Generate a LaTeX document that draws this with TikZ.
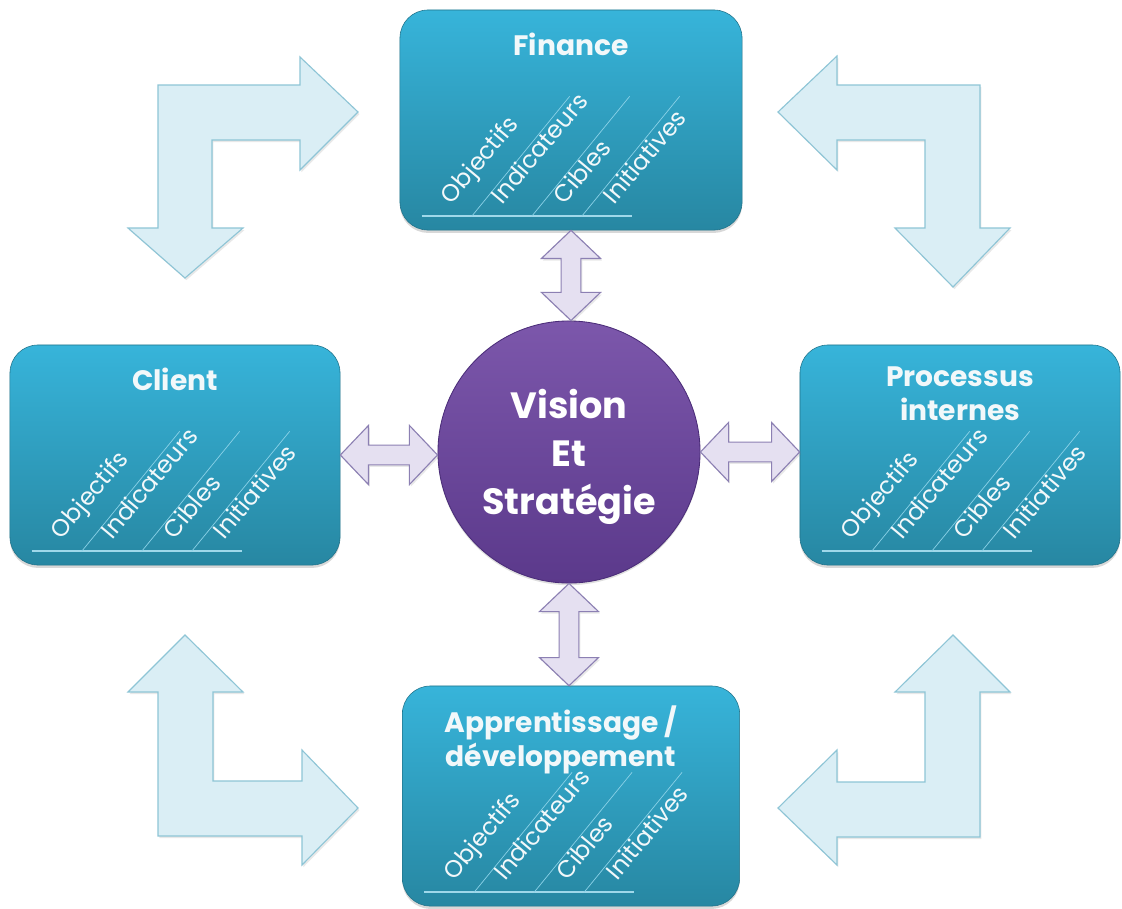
\documentclass[tikz,border=0pt]{standalone}
\usepackage{fontspec}
\setmainfont{Poppins}
\usetikzlibrary{calc, shadows}
\definecolor{cardtop}{HTML}{37B4DA}
\definecolor{cardbot}{HTML}{2787A2}
\definecolor{cardrule}{HTML}{9FD8EA}
\definecolor{vistop}{HTML}{7C57AB}
\definecolor{visbot}{HTML}{5B398B}
\definecolor{visedge}{HTML}{4A2C78}
\definecolor{loopfill}{HTML}{DAEEF5}
\definecolor{loopedge}{HTML}{8EC5D6}
\definecolor{linkfill}{HTML}{E5E0F1}
\definecolor{linkedge}{HTML}{8C80B3}
\definecolor{offwhite}{HTML}{F2F8FA}

\tikzset{
  card/.style={rectangle, rounded corners=0.7cm, top color=cardtop, bottom color=cardbot,
    draw=cardbot!85!black, line width=0.4pt, minimum height=5.5cm,
    drop shadow={opacity=0.3, shadow xshift=0pt, shadow yshift=-2pt}},
  cardtitle/.style={text=offwhite, font=\fontsize{20}{24}\selectfont\bfseries, align=center,
    inner sep=0pt, anchor=north},
  kpi/.style={text=offwhite, font=\fontsize{17}{20}\selectfont, rotate=50, anchor=base west, inner sep=0pt},
  rule/.style={cardrule, line width=1.6pt},
  hatch/.style={cardrule!80!cardtop, line width=0.5pt},
  vision/.style={circle, minimum size=6.55cm, inner sep=0pt, top color=vistop, bottom color=visbot,
    draw=visedge, line width=0.6pt, text=white, align=center,
    font=\fontsize{26}{34}\selectfont\bfseries,
    drop shadow={opacity=0.25, shadow xshift=0pt, shadow yshift=-1.5pt}},
  loop/.style={fill=loopfill, draw=loopedge, line width=0.8pt, line join=miter,
    drop shadow={opacity=0.18, shadow xshift=1pt, shadow yshift=-1.5pt}},
  link/.style={fill=linkfill, draw=linkedge, line width=0.8pt, line join=miter,
    drop shadow={opacity=0.18, shadow xshift=1pt, shadow yshift=-1.5pt}},
}

% rule, hatching and the four rotated words of a card
\newcommand{\cardkpis}[1]{%
  \draw[rule] ($(#1.south west)+(22,-14)$) -- ++(210,0);
  \foreach \dx in {72,132,182}
    \draw[hatch] ($(#1.south west)+(\dx,-14)$) -- ++(98,-120);
  \node[kpi] (#1-obj) at ($(#1.south west)+(52,-25)$) {Objectifs};
  \node[kpi] (#1-ind) at ($(#1.south west)+(103,-25)$) {Indicateurs};
  \node[kpi] (#1-cib) at ($(#1.south west)+(165,-25)$) {Cibles};
  \node[kpi] (#1-ini) at ($(#1.south west)+(215,-25)$) {Initiatives};
}

% vertical double arrow between two anchors
\newcommand{\vlink}[2]{%
  \draw[link] let \p1=(#1), \p2=(#2) in
    (\x1,\y1) -- (\x1+21pt,\y1-20pt) -- (\x1+7pt,\y1-20pt) -- (\x1+7pt,\y2+20pt)
    -- (\x1+21pt,\y2+20pt) -- (\x1,\y2) -- (\x1-21pt,\y2+20pt) -- (\x1-7pt,\y2+20pt)
    -- (\x1-7pt,\y1-20pt) -- (\x1-21pt,\y1-20pt) -- cycle;
}

% horizontal double arrow between two anchors
\newcommand{\hlink}[2]{%
  \draw[link] let \p1=(#1), \p2=(#2) in
    (\x1,\y1) -- (\x1+20pt,\y1+21pt) -- (\x1+20pt,\y1+7pt) -- (\x2-20pt,\y1+7pt)
    -- (\x2-20pt,\y1+21pt) -- (\x2,\y1) -- (\x2-20pt,\y1-21pt) -- (\x2-20pt,\y1-7pt)
    -- (\x1+20pt,\y1-7pt) -- (\x1+20pt,\y1-21pt) -- cycle;
}

\begin{document}
\begin{tikzpicture}[x=0.025cm, y=-0.025cm]

% Background
\fill[white] (0,0) rectangle (1122,908);
\useasboundingbox (0,0) rectangle (1122,908);

% Corner arrows
\draw[loop] (358,112) -- (300,170) -- (300,140) -- (212,140) -- (212,228) -- (243,228)
  -- (185,278) -- (128,228) -- (158,228) -- (158,85) -- (300,85) -- (300,57) -- cycle;
\draw[loop] (778,112) -- (837,56) -- (837,85) -- (980,85) -- (980,228) -- (1010,228)
  -- (953,287) -- (895,228) -- (925,228) -- (925,140) -- (837,140) -- (837,170) -- cycle;
\draw[loop] (185,635) -- (243,692) -- (213,692) -- (213,781) -- (302,781) -- (302,750)
  -- (358,808) -- (302,865) -- (302,836) -- (158,836) -- (158,692) -- (128,692) -- cycle;
\draw[loop] (953,635) -- (1010,692) -- (980,692) -- (980,837) -- (837,837) -- (837,865)
  -- (778,808) -- (837,750) -- (837,782) -- (925,782) -- (925,692) -- (895,692) -- cycle;

% Cards
\node[card, minimum width=8.55cm] (fin) at (571,120) {};
\node[card, minimum width=8.25cm] (cli) at (175,455) {};
\node[card, minimum width=8.0cm] (pro) at (960,455) {};
\node[card, minimum width=8.43cm] (app) at (571,796) {};

\node[cardtitle] (fin-t) at ($(fin.north)+(0,23)$) {Finance};
\node[cardtitle] (cli-t) at ($(cli.north)+(0,23)$) {Client};
\node[cardtitle] (pro-t) at ($(pro.north)+(0,22)$) {Processus\\internes};
\node[cardtitle] (app-t) at ($(app.north)+(-10,20)$) {Apprentissage /\\développement};

\cardkpis{fin}
\cardkpis{cli}
\cardkpis{pro}
\cardkpis{app}

% Centre
\node[vision] (vis) at (569,452) {};
\node[text=white, align=center, font=\fontsize{26}{34}\selectfont\bfseries, inner sep=0pt]
  (vis-t) at ($(vis.center)+(0,5)$) {Vision\\Et\\Stratégie};

% Links
\vlink{fin.south}{vis.north}
\vlink{vis.south}{app.north}
\hlink{cli.east}{vis.west}
\hlink{vis.east}{pro.west}

\end{tikzpicture}
\end{document}
